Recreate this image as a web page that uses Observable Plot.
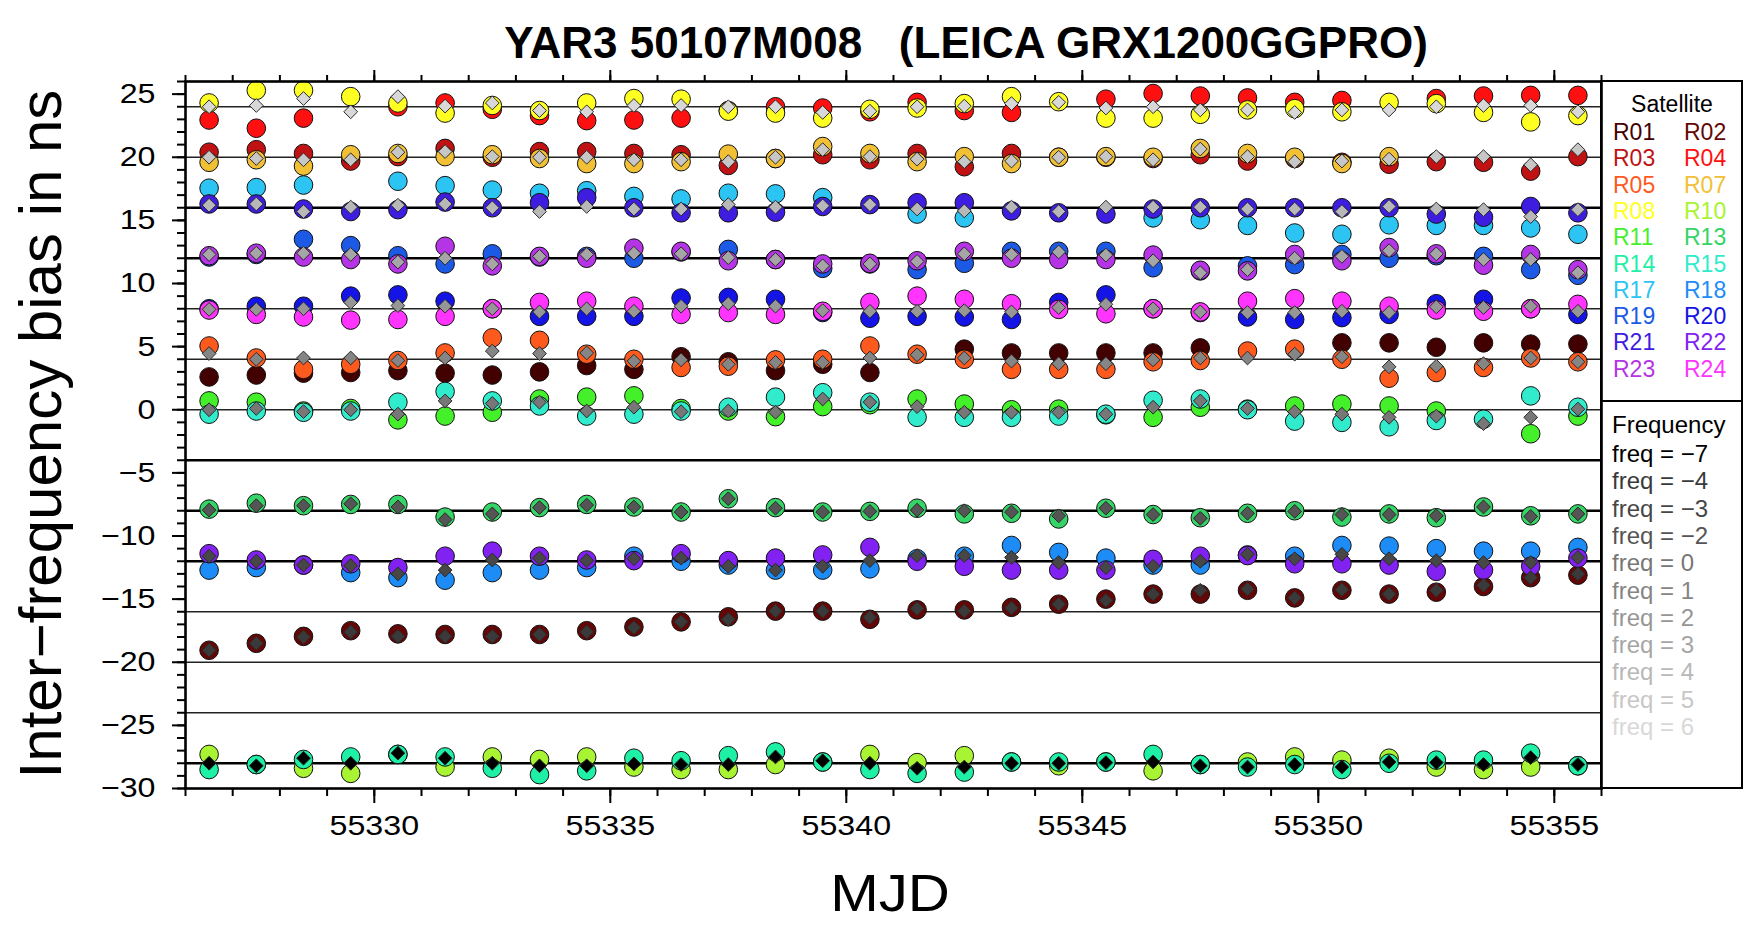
<!DOCTYPE html>
<html><head><meta charset="utf-8">
<script src="https://cdn.jsdelivr.net/npm/d3@7"></script>
<script src="https://cdn.jsdelivr.net/npm/@observablehq/plot@0.6"></script>
<style>
html,body{margin:0;padding:0;background:#fff;}
#wrap{position:relative;width:1744px;height:925px;overflow:hidden;font-family:"Liberation Sans",Arial,Helvetica,sans-serif;color:#000;}
#wrap svg{position:absolute;left:0;top:0;}
.abs{position:absolute;white-space:pre;line-height:1;}
</style></head><body><div id="wrap"></div>
<script>
// ---------------- data ----------------
const days = [55326.5,55327.5,55328.5,55329.5,55330.5,55331.5,55332.5,55333.5,55334.5,55335.5,
              55336.5,55337.5,55338.5,55339.5,55340.5,55341.5,55342.5,55343.5,55344.5,55345.5,
              55346.5,55347.5,55348.5,55349.5,55350.5,55351.5,55352.5,55353.5,55354.5,55355.5];

const satellites = ["R01","R02","R03","R04","R05","R07","R08","R10","R11","R13",
                    "R14","R15","R17","R18","R19","R20","R21","R22","R23","R24"];
const satColors  = ["#420000","#650606","#c01212","#ff1010","#ff5a1e","#f2c034","#ffff22","#a8f432","#44f02a","#34d466",
                    "#1ef0a6","#30eccc","#2cc4f2","#1e8cf6","#1c5ae6","#1414e6","#3e1ce0","#8222f2","#b434e6","#ff34ff"];
const satFreq    = [1,-4,5,6,1,5,6,-7,0,-2,-7,0,4,-3,3,2,4,-3,3,2];

const R01 = [2.6,2.75,2.9,2.95,3.1,2.9,2.75,3.0,3.5,3.2, 4.2,3.8,3.1,3.6,2.95,null,4.8,4.5,4.5,4.5, 4.5,4.9,null,null,5.3,5.3,4.95,5.3,5.2,5.2];
const R02 = [-19.05,-18.5,-17.95,-17.5,-17.75,-17.8,-17.8,-17.8,-17.5,-17.2, -16.8,-16.4,-15.95,-15.95,-16.6,-15.85,-15.85,-15.65,-15.4,-15.0, -14.6,-14.6,-14.3,-14.9,-14.3,-14.6,-14.45,-14.0,-13.3,-13.1];
const R03 = [20.4,20.6,20.3,19.7,20.05,20.7,20.0,20.45,20.45,20.3, 20.2,19.35,19.9,20.2,19.8,20.3,19.25,20.3,20.0,20.0, 19.9,20.2,19.7,19.9,19.6,19.45,19.65,19.6,18.9,20.05];
const R04 = [22.95,22.3,23.1,null,24.0,24.3,23.8,23.3,22.9,22.95, 23.1,23.7,24.0,23.9,23.6,24.35,23.7,23.55,null,24.6, 25.05,24.85,24.7,24.35,24.5,null,24.65,24.85,24.9,24.9];
const R05 = [5.05,4.1,3.2,3.6,3.9,4.5,5.7,5.5,4.4,4.0, 3.35,3.45,3.95,4.0,5.05,4.4,4.0,3.2,3.2,3.2, 3.8,3.9,4.65,4.8,4.0,2.5,2.95,3.35,4.1,3.8];
const R07 = [19.6,19.8,19.3,20.2,20.3,20.05,20.2,19.9,19.5,19.5, 19.65,20.25,19.9,20.85,20.3,19.65,20.05,19.5,20.0,20.05, 20.0,20.7,20.3,20.0,19.5,20.05,null,null,null,null];
const R08 = [24.3,25.3,25.3,24.8,24.3,23.5,24.1,23.7,24.3,24.65, 24.6,23.65,23.5,23.1,23.8,23.9,24.25,24.8,24.4,23.1, 23.1,23.4,23.75,23.85,23.6,24.35,24.25,23.55,22.8,23.3];
const R10 = [-27.3,-28.1,-28.4,-28.8,-27.3,-28.3,-27.5,-27.7,-27.5,-28.3, -28.5,-28.5,-28.1,-27.9,-27.3,-27.95,-27.4,-27.9,-28.2,-27.9, -28.6,-28.1,-27.9,-27.5,-27.75,-27.6,-28.3,-28.5,-28.3,-28.2];
const R11 = [0.7,0.6,-0.1,0.1,-0.8,-0.5,-0.2,0.85,1.0,1.1, 0.1,-0.1,-0.55,0.25,0.4,0.85,0.45,0.0,0.05,-0.4, -0.6,0.2,0.05,0.3,0.45,0.3,-0.1,null,-1.9,-0.5];
const R13 = [-7.87,-7.4,-7.6,-7.5,-7.5,-8.5,-8.1,-7.75,-7.5,-7.7, -8.1,-7.05,-7.75,-8.1,-8.05,-7.8,-8.25,-8.2,-8.65,-7.8, -8.3,-8.55,-8.2,-8.0,-8.5,-8.25,-8.55,-7.7,-8.4,-8.25];
const R14 = [-28.5,-28.1,-27.7,-27.5,-27.3,-27.5,-28.4,-28.9,-28.6,-27.6, -27.8,-27.4,-27.1,-27.9,-28.5,-28.8,-28.7,-27.9,-27.9,-27.9, -27.3,-28.1,-28.3,-28.1,-28.5,-28.0,-27.75,-27.75,-27.2,-28.2];
const R15 = [-0.35,-0.1,-0.2,-0.1,0.6,1.45,0.7,0.3,-0.5,-0.35, -0.1,0.2,1.0,1.35,0.6,-0.6,-0.6,-0.6,-0.5,-0.35, 0.75,0.85,0.0,-0.9,-1.0,-1.35,-0.85,-0.75,1.1,0.2];
const R17 = [17.55,17.6,17.8,null,18.1,17.75,17.4,17.15,17.35,16.9, 16.7,17.15,17.1,16.8,null,15.5,15.2,null,null,null, 15.2,15.05,14.6,14.0,13.9,14.65,14.6,14.6,14.4,13.9];
const R18 = [-12.7,-12.5,-12.3,-12.9,-13.3,-13.5,-12.9,-12.7,-12.5,-11.6, -12.0,-12.3,-12.7,-12.7,-12.6,-11.8,-11.6,-10.75,-11.3,-11.75, -12.3,-12.3,-11.5,-11.6,-10.75,-10.8,-11.0,-11.2,-11.2,-10.9];
const R19 = [12.1,12.3,13.5,13.0,12.2,11.55,12.35,12.1,12.15,12.0, 12.5,12.7,11.9,11.2,11.55,11.1,11.6,12.55,12.55,12.55, 11.25,11.0,11.4,11.5,12.3,12.0,12.2,12.15,11.1,10.65];
const R20 = [8.0,8.2,8.2,9.0,9.1,8.6,8.0,7.4,7.4,7.4, 8.85,8.9,8.75,7.7,7.25,7.4,7.35,7.15,8.5,9.1, 8.0,7.7,7.35,7.15,7.3,7.55,8.4,8.75,8.0,7.55];
const R21 = [16.3,16.3,15.9,15.7,15.85,16.45,16.0,16.4,16.8,16.0, 15.6,15.6,15.65,16.1,16.25,16.4,16.4,15.75,15.6,15.5, 15.9,16.0,16.0,16.0,16.0,16.0,15.5,15.25,16.1,15.6];
const R22 = [-11.4,-11.9,-12.3,-12.2,-12.5,-11.6,-11.2,-11.6,-11.9,-11.95, -11.4,-11.95,-11.75,-11.5,-10.9,-12.0,-12.4,-12.7,-12.7,-12.7, -11.85,-11.6,-11.55,-12.2,-12.2,-12.3,-12.8,-12.7,-12.4,-11.75];
const R23 = [12.2,12.4,12.1,11.9,11.55,12.95,11.4,12.15,12.0,12.8, 12.55,11.8,11.9,11.55,11.6,11.8,12.55,12.0,11.9,11.9, 12.25,11.05,11.0,12.3,11.8,12.85,12.35,11.45,12.3,11.1];
const R24 = [7.9,7.55,7.35,7.1,7.15,7.4,8.0,8.5,8.6,8.2, 7.55,7.7,7.55,7.8,8.5,9.0,8.75,8.4,7.95,7.6, 8.0,7.75,8.6,8.8,8.6,8.2,7.9,7.8,8.0,8.35];
const satSeries = [R01,R02,R03,R04,R05,R07,R08,R10,R11,R13,R14,R15,R17,R18,R19,R20,R21,R22,R23,R24];

// frequency-specific biases (diamonds)
const frequencies = [-7,-4,-3,-2,0,1,2,3,4,5,6];
const freqLabels  = ["freq = \u22127","freq = \u22124","freq = \u22123","freq = \u22122","freq = 0","freq = 1","freq = 2","freq = 3","freq = 4","freq = 5","freq = 6"];
const freqColors  = ["#000000","#3a3a3a","#474747","#555555","#777777","#858585","#969696","#a6a6a6","#b8b8b8","#c7c7c7","#d8d8d8"];
const Fm7 = [-28.0,-28.2,-27.6,-28.0,-27.2,-27.6,-28.0,-28.2,-28.2,-28.05, -28.1,-28.1,-27.5,-27.8,-28.0,-28.4,-28.3,-28.0,-28.0,-27.95, -27.9,-28.2,-28.3,-28.1,-28.3,-27.9,-27.95,-28.1,-27.55,-28.1];
const Fm4 = [-19.05,-18.5,-18.0,-17.6,-17.95,-17.95,-17.95,-17.8,-17.6,-17.25, -16.8,-16.6,-15.95,-15.95,-16.45,-15.75,-15.95,-15.7,-15.4,-15.1, -14.6,-14.3,-14.2,-14.9,-14.25,-14.6,-14.3,-13.9,-13.3,-13.0];
const Fm3 = [-11.6,-12.0,-12.3,-12.35,-13.0,-12.7,-11.9,-11.75,-11.95,-11.8, -11.75,-12.4,-12.7,-12.4,-11.95,-11.55,-11.55,-11.7,-12.1,-12.5, -12.4,-12.0,-11.45,-11.8,-11.45,-11.8,-11.95,-12.1,-12.1,-11.7];
const Fm2 = [-7.95,-7.6,-7.6,-7.45,-7.7,-8.7,-8.25,-7.75,-7.55,-7.7, -8.1,-7.05,-7.8,-8.1,-8.05,-7.95,-8.0,-8.1,-8.4,-7.8, -8.3,-8.6,-8.2,-8.05,-8.3,-8.3,-8.4,-7.7,-8.45,-8.25];
const F0  = [0.0,0.1,-0.15,0.0,-0.35,0.7,0.5,0.6,-0.1,0.2, -0.15,-0.1,-0.2,0.85,0.6,0.25,-0.2,-0.2,-0.2,-0.35, 0.2,0.7,0.1,-0.15,-0.35,-0.6,-0.5,-1.1,-0.6,0.05];
const F1  = [4.45,4.0,4.1,4.1,3.9,4.1,4.65,4.45,4.5,3.85, 3.95,3.6,3.75,3.75,4.1,4.35,4.1,3.85,3.65,3.65, 3.95,4.1,4.1,4.4,4.2,3.4,3.45,3.65,4.1,3.8];
const F2  = [7.95,7.95,8.0,8.5,8.25,8.2,8.0,7.75,8.0,7.8, 8.2,8.4,8.2,7.85,7.8,7.8,7.85,7.75,8.1,8.35, 8.0,7.75,7.7,7.7,7.8,7.7,8.15,8.1,8.2,7.8];
const F3  = [12.3,12.4,12.4,12.3,11.7,12.0,11.55,12.15,12.3,12.4, 12.35,12.05,11.9,11.4,11.55,11.75,12.35,12.3,12.5,12.25, 11.8,10.85,11.1,12.0,12.15,12.6,12.35,11.9,11.9,10.85];
const F4  = [16.2,16.3,15.7,16.05,16.2,16.3,16.0,15.7,16.1,15.9, 15.9,16.25,16.05,16.15,16.25,15.9,15.75,16.05,15.7,16.05, 16.05,16.05,15.9,15.9,15.7,16.1,15.9,15.85,15.3,15.85];
const F5  = [20.0,19.9,19.8,19.8,20.4,20.45,20.05,20.0,20.0,19.8, 19.8,19.65,20.0,20.6,20.05,19.85,19.65,19.7,20.0,20.05, 19.8,20.65,20.05,19.65,19.7,19.85,20.05,20.05,19.4,20.6];
const F6  = [24.0,24.1,24.65,23.6,24.8,24.05,24.3,23.7,23.6,24.1, 24.1,24.0,24.0,23.55,23.65,24.0,24.05,24.25,24.35,23.9, 24.0,23.75,23.75,23.55,23.75,23.75,24.0,24.1,24.1,23.6];
const freqSeries = [Fm7,Fm4,Fm3,Fm2,F0,F1,F2,F3,F4,F5,F6];

// reference lines (4 ns per frequency channel) and axis ticks
const refLines   = [-28,-24,-20,-16,-12,-8,-4,0,4,8,12,16,20,24];
const thickLines = [-28,-12,-8,-4,12,16];
const xMajor = [55330,55335,55340,55345,55350,55355];
const yMajor = [-30,-25,-20,-15,-10,-5,0,5,10,15,20,25];

// ---------------- build tables ----------------
const satRows = [];
satellites.forEach((s, k) => satSeries[k].forEach((v, i) => {
  if (v != null) satRows.push({mjd: days[i], bias: v, sat: s, color: satColors[k]});
}));
const freqRows = [];
frequencies.forEach((f, k) => freqSeries[k].forEach((v, i) => {
  if (v != null) freqRows.push({mjd: days[i], bias: v, freq: f, color: freqColors[k]});
}));

const FONT = '"Liberation Sans", Arial, Helvetica, sans-serif';
const W = 1744, H = 925;
const mL = 185, mR = 143, mT = 81, mB = 137;

const chart = Plot.plot({
  width: W, height: H,
  marginLeft: mL, marginRight: mR, marginTop: mT, marginBottom: mB,
  x: {domain: [55326, 55356], label: null},
  y: {domain: [-30, 26], label: null},
  color: {type: "identity"},
  style: {fontFamily: FONT, background: "transparent", color: "#000", overflow: "visible"},
  marks: [
    Plot.ruleY(refLines.filter(d => !thickLines.includes(d)), {stroke: "#222", strokeWidth: 1.3}),
    Plot.ruleY(thickLines, {stroke: "#000", strokeWidth: 2.3}),
    Plot.dot(satRows, {x: "mjd", y: "bias", r: 9.3, fill: "color", stroke: "#111", strokeWidth: 1}),
    Plot.dot(freqRows, {x: "mjd", y: "bias", r: 6.2, symbol: "diamond2", fill: "color", stroke: "#2a2a2a", strokeWidth: 1}),
    Plot.axisX({ticks: xMajor, tickSize: 15, tickPadding: 12, fontSize: 28, tickFormat: d => String(d), strokeWidth: 2, label: null}),
    Plot.axisX({ticks: d3.range(55326, 55357), tickSize: 8, tickFormat: () => "", strokeWidth: 2, label: null}),
    Plot.axisX({anchor: "top", ticks: xMajor, tickSize: 12, tickFormat: () => "", strokeWidth: 2, label: null}),
    Plot.axisX({anchor: "top", ticks: d3.range(55326, 55357), tickSize: 7, tickFormat: () => "", strokeWidth: 2, label: null}),
    Plot.axisY({ticks: yMajor, tickSize: 13, tickPadding: 17, fontSize: 28, strokeWidth: 2, label: null}),
    Plot.axisY({ticks: d3.range(-30, 27), tickSize: 8, tickFormat: () => "", strokeWidth: 2, label: null}),
    Plot.frame({stroke: "#000", strokeWidth: 2.6})
  ]
});

const wrap = document.getElementById("wrap");
wrap.appendChild(chart);

// stretch tick labels horizontally to match the reference's wide glyphs
d3.select(chart).selectAll('g[aria-label$="tick label"] text').each(function() {
  const t = this.getAttribute("transform") || "";
  this.setAttribute("transform", t + " scale(1.15,1)");
});

// ---------------- titles ----------------
function addText(txt, css) {
  const d = document.createElement("div");
  d.className = "abs";
  d.textContent = txt;
  d.style.cssText += css;
  wrap.appendChild(d);
  return d;
}
addText("YAR3 50107M008   (LEICA GRX1200GGPRO)",
  "left:966px;top:43px;font-size:44px;font-weight:bold;transform:translate(-50%,-50%);");
addText("MJD", "left:890px;top:893px;font-size:52px;transform:translate(-50%,-50%) scaleX(1.12);");
addText("Inter\u2212frequency bias in ns",
  "left:41px;top:434px;font-size:60px;transform:translate(-50%,-50%) rotate(-90deg);");

// ---------------- legend ----------------
const lg = document.createElement("div");
lg.style.cssText = "position:absolute;left:1600px;top:80px;width:143px;height:709px;border:2.6px solid #000;box-sizing:border-box;";
wrap.appendChild(lg);
const divider = document.createElement("div");
divider.style.cssText = "position:absolute;left:0;right:0;top:318px;border-top:2.6px solid #000;";
lg.appendChild(divider);

function legText(txt, x, cy, color, size, center) {
  const d = document.createElement("div");
  d.className = "abs";
  d.textContent = txt;
  d.style.cssText += `left:${x}px;top:${cy}px;font-size:${size}px;color:${color};transform:translate(${center ? "-50%" : "0"},-50%);`;
  wrap.appendChild(d);
}
legText("Satellite", 1672, 104, "#000", 23, true);
satellites.forEach((s, k) => {
  const row = Math.floor(k / 2), col = k % 2;
  legText(s, col ? 1684 : 1613, 132 + row * 26.3, satColors[k], 23, false);
});
legText("Frequency", 1612, 425, "#000", 24, false);
frequencies.forEach((f, k) => {
  legText(freqLabels[k], 1612, 454 + k * 27.3, freqColors[k], 24, false);
});
</script></body></html>
